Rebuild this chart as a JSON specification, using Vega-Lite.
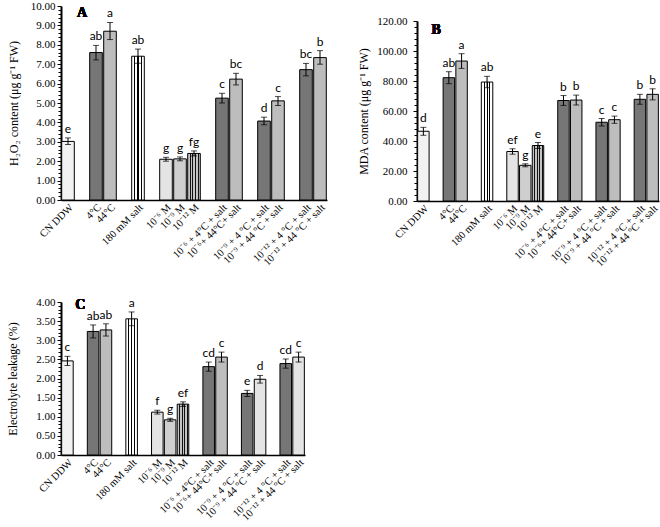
{
  "$schema": "https://vega.github.io/schema/vega-lite/v6.json",
  "padding": {"left": 6, "top": 0, "right": 0, "bottom": 0},
  "background": "white",
  "config": {
    "view": {"stroke": null},
    "font": "Liberation Serif",
    "axis": {"labelFont": "Liberation Serif", "titleFont": "Liberation Serif", "labelColor": "black", "titleColor": "black", "domainColor": "black", "tickColor": "black", "grid": false, "titleFontWeight": "normal"}
  },
  "datasets": {
    "A": [
      {"trt": "CN DDW", "v": 3.02, "lo": 2.86, "hi": 3.2, "sig": "e", "grp": "ctrl"},
      {"trt": "4°C", "v": 7.6, "lo": 7.22, "hi": 7.97, "sig": "ab", "grp": "cold"},
      {"trt": "44°C", "v": 8.7, "lo": 8.27, "hi": 9.15, "sig": "a", "grp": "heat"},
      {"trt": "180 mM salt", "v": 7.41, "lo": 7.05, "hi": 7.78, "sig": "ab", "grp": "salt"},
      {"trt": "10⁻⁶ M", "v": 2.1, "lo": 2.0, "hi": 2.2, "sig": "g", "grp": "cn6"},
      {"trt": "10⁻⁹ M", "v": 2.12, "lo": 2.02, "hi": 2.22, "sig": "g", "grp": "cn9"},
      {"trt": "10⁻¹² M", "v": 2.4, "lo": 2.27, "hi": 2.53, "sig": "fg", "grp": "cn12"},
      {"trt": "10⁻⁶ + 4°C + salt", "v": 5.25, "lo": 5.0, "hi": 5.5, "sig": "c", "grp": "cold"},
      {"trt": "10⁻⁶+ 44°C+ salt", "v": 6.23, "lo": 5.93, "hi": 6.53, "sig": "bc", "grp": "heat"},
      {"trt": "10⁻⁹ + 4 °C + salt", "v": 4.07, "lo": 3.88, "hi": 4.27, "sig": "d", "grp": "cold"},
      {"trt": "10⁻⁹ + 44 °C + salt", "v": 5.11, "lo": 4.87, "hi": 5.33, "sig": "c", "grp": "heat"},
      {"trt": "10⁻¹² + 4 °C + salt", "v": 6.72, "lo": 6.4, "hi": 7.04, "sig": "bc", "grp": "cold"},
      {"trt": "10⁻¹² + 44 °C + salt", "v": 7.34, "lo": 7.0, "hi": 7.7, "sig": "b", "grp": "heat"}
    ],
    "B": [
      {"trt": "CN DDW", "v": 46.5, "lo": 43.8, "hi": 49.1, "sig": "d", "grp": "ctrl"},
      {"trt": "4°C", "v": 82.2, "lo": 78.2, "hi": 86.2, "sig": "ab", "grp": "cold"},
      {"trt": "44°C", "v": 93.3, "lo": 88.4, "hi": 98.2, "sig": "a", "grp": "heat"},
      {"trt": "180 mM salt", "v": 79.3, "lo": 75.5, "hi": 83.1, "sig": "ab", "grp": "salt"},
      {"trt": "10⁻⁶ M", "v": 33.0, "lo": 31.2, "hi": 34.8, "sig": "ef", "grp": "cn6"},
      {"trt": "10⁻⁹ M", "v": 23.8, "lo": 22.8, "hi": 24.8, "sig": "g", "grp": "cn9"},
      {"trt": "10⁻¹² M", "v": 37.0, "lo": 35.0, "hi": 39.0, "sig": "e", "grp": "cn12"},
      {"trt": "10⁻⁶ + 4°C + salt", "v": 67.0, "lo": 63.7, "hi": 70.3, "sig": "b", "grp": "cold"},
      {"trt": "10⁻⁶+ 44°C+ salt", "v": 67.3, "lo": 64.0, "hi": 70.6, "sig": "b", "grp": "heat"},
      {"trt": "10⁻⁹ + 4 °C + salt", "v": 52.5, "lo": 50.0, "hi": 55.0, "sig": "c", "grp": "cold"},
      {"trt": "10⁻⁹ + 44 °C + salt", "v": 54.2, "lo": 51.8, "hi": 56.6, "sig": "c", "grp": "heat"},
      {"trt": "10⁻¹² + 4 °C + salt", "v": 67.8, "lo": 64.5, "hi": 71.1, "sig": "b", "grp": "cold"},
      {"trt": "10⁻¹² + 44 °C + salt", "v": 71.1, "lo": 67.4, "hi": 74.8, "sig": "b", "grp": "heat"}
    ],
    "C": [
      {"trt": "CN DDW", "v": 2.46, "lo": 2.34, "hi": 2.58, "sig": "c", "grp": "ctrl"},
      {"trt": "4°C", "v": 3.23, "lo": 3.06, "hi": 3.4, "sig": "ab", "grp": "cold"},
      {"trt": "44°C", "v": 3.27, "lo": 3.11, "hi": 3.43, "sig": "ab", "grp": "heat"},
      {"trt": "180 mM salt", "v": 3.56, "lo": 3.38, "hi": 3.74, "sig": "a", "grp": "salt"},
      {"trt": "10⁻⁶ M", "v": 1.12, "lo": 1.07, "hi": 1.17, "sig": "f", "grp": "cn6"},
      {"trt": "10⁻⁹ M", "v": 0.92, "lo": 0.88, "hi": 0.96, "sig": "g", "grp": "cn9"},
      {"trt": "10⁻¹² M", "v": 1.33, "lo": 1.27, "hi": 1.39, "sig": "ef", "grp": "cn12"},
      {"trt": "10⁻⁶ + 4°C + salt", "v": 2.31, "lo": 2.19, "hi": 2.43, "sig": "cd", "grp": "cold"},
      {"trt": "10⁻⁶+ 44°C+ salt", "v": 2.56, "lo": 2.43, "hi": 2.69, "sig": "c", "grp": "heat"},
      {"trt": "10⁻⁹ + 4 °C + salt", "v": 1.61, "lo": 1.53, "hi": 1.69, "sig": "e", "grp": "cold"},
      {"trt": "10⁻⁹ + 44 °C + salt", "v": 1.98, "lo": 1.88, "hi": 2.08, "sig": "d", "grp": "wave"},
      {"trt": "10⁻¹² + 4 °C + salt", "v": 2.39, "lo": 2.27, "hi": 2.51, "sig": "cd", "grp": "cold"},
      {"trt": "10⁻¹² + 44 °C + salt", "v": 2.56, "lo": 2.43, "hi": 2.69, "sig": "c", "grp": "wave"}
    ]
  },
  "vconcat": [
    {
      "hconcat": [
        {
          "width": 266, "height": 194,
          "data": {"name": "A"},
          "encoding": {
            "x": {"field": "trt", "type": "nominal", "title": null,
              "scale": {"domain": ["CN DDW","gap1","4°C","44°C","gap2","180 mM salt","gap3","10⁻⁶ M","10⁻⁹ M","10⁻¹² M","gap4","10⁻⁶ + 4°C + salt","10⁻⁶+ 44°C+ salt","gap5","10⁻⁹ + 4 °C + salt","10⁻⁹ + 44 °C + salt","gap6","10⁻¹² + 4 °C + salt","10⁻¹² + 44 °C + salt"], "paddingInner": 0.1, "paddingOuter": 0.05},
              "axis": {"labelAngle": -45, "labelFontSize": 10.5, "ticks": false, "domainWidth": 1.5, "labelPadding": 2, "labelExpr": "slice(datum.value,0,3)==='gap' ? '' : datum.value"}}
          },
          "layer": [
            {"mark": {"type": "point", "opacity": 0},
             "encoding": {"y": {"field": "v", "type": "quantitative", "scale": {"domain": [0, 10]},
               "axis": {"orient": "left", "values": [0.2,0.4,0.6,0.8,1.2,1.4,1.6,1.8,2.2,2.4,2.6,2.8,3.2,3.4,3.6,3.8,4.2,4.4,4.6,4.8,5.2,5.4,5.6,5.8,6.2,6.4,6.6,6.8,7.2,7.4,7.6,7.8,8.2,8.4,8.6,8.8,9.2,9.4,9.6,9.8], "labels": false, "domain": false, "tickSize": 3, "title": null}}}},
            {"mark": {"type": "bar", "stroke": "black", "strokeWidth": 1},
             "encoding": {
               "y": {"field": "v", "type": "quantitative", "scale": {"domain": [0, 10]},
                 "axis": {"orient": "left", "values": [0,1,2,3,4,5,6,7,8,9,10], "format": ".2f", "labelFontSize": 11, "tickSize": 4, "labelPadding": 2, "domainWidth": 2, "title": "H₂O₂ content (μg g⁻¹ FW)", "titleFontSize": 12, "titlePadding": 10}},
               "fill": {"field": "grp", "type": "nominal", "legend": null,
                 "scale": {"domain": ["ctrl","cold","heat","salt","cn6","cn9","cn12","wave"], "range": ["#f2f2f2","#767676","#bdbdbd","#ffffff","#e4e4e4","#cfcfcf","#a8a8a8","#e4e4e4"]},
                 "condition": [
                   {"test": "datum.grp==='salt'", "value": {"gradient": "linear", "x1": 0, "y1": 0, "x2": 1, "y2": 0, "stops": [{"offset": 0, "color": "#ffffff"}, {"offset": 0.22, "color": "#ffffff"}, {"offset": 0.22, "color": "#000000"}, {"offset": 0.3, "color": "#000000"}, {"offset": 0.3, "color": "#ffffff"}, {"offset": 0.46, "color": "#ffffff"}, {"offset": 0.46, "color": "#000000"}, {"offset": 0.54, "color": "#000000"}, {"offset": 0.54, "color": "#ffffff"}, {"offset": 0.7, "color": "#ffffff"}, {"offset": 0.7, "color": "#000000"}, {"offset": 0.78, "color": "#000000"}, {"offset": 0.78, "color": "#ffffff"}, {"offset": 1, "color": "#ffffff"}]}},
                   {"test": "datum.grp==='cn12'", "value": {"gradient": "linear", "x1": 0, "y1": 0, "x2": 1, "y2": 0, "stops": [{"offset": 0, "color": "#c4c4c4"}, {"offset": 0.16, "color": "#c4c4c4"}, {"offset": 0.16, "color": "#111111"}, {"offset": 0.24, "color": "#111111"}, {"offset": 0.24, "color": "#c4c4c4"}, {"offset": 0.38, "color": "#c4c4c4"}, {"offset": 0.38, "color": "#111111"}, {"offset": 0.46, "color": "#111111"}, {"offset": 0.46, "color": "#c4c4c4"}, {"offset": 0.6, "color": "#c4c4c4"}, {"offset": 0.6, "color": "#111111"}, {"offset": 0.68, "color": "#111111"}, {"offset": 0.68, "color": "#c4c4c4"}, {"offset": 0.82, "color": "#c4c4c4"}, {"offset": 0.82, "color": "#111111"}, {"offset": 0.9, "color": "#111111"}, {"offset": 0.9, "color": "#c4c4c4"}, {"offset": 1, "color": "#c4c4c4"}]}}
                 ]}
             }},
            {"mark": {"type": "errorbar", "ticks": {"size": 6, "color": "black", "strokeWidth": 1}, "rule": {"color": "black", "strokeWidth": 1}},
             "encoding": {"y": {"field": "lo", "type": "quantitative", "scale": {"domain": [0, 10]}, "axis": null}, "y2": {"field": "hi"}}},
            {"mark": {"type": "text", "font": "Lato", "fontSize": 12, "baseline": "bottom", "dy": -2, "fill": "black"},
             "encoding": {"y": {"field": "hi", "type": "quantitative", "scale": {"domain": [0, 10]}, "axis": null}, "text": {"field": "sig"}}},
            {"mark": {"type": "text", "font": "Liberation Serif", "fontWeight": "bold", "fontSize": 14, "baseline": "top", "align": "center", "fill": "black"},
             "encoding": {"x": {"datum": "gap1", "type": "nominal"}, "y": {"datum": 10, "type": "quantitative", "scale": {"domain": [0, 10]}, "axis": null}, "text": {"value": "A"}}}
          ],
          "resolve": {"axis": {"y": "independent"}}
        },
        {
          "vconcat": [
            {"width": 243, "height": 8, "data": {"values": [{}]}, "mark": {"type": "text"}, "encoding": {"text": {"value": ""}}},
            {
              "width": 242, "height": 180,
              "data": {"name": "B"},
              "encoding": {
                "x": {"field": "trt", "type": "nominal", "title": null,
                  "scale": {"domain": ["CN DDW","gap1","4°C","44°C","gap2","180 mM salt","gap3","10⁻⁶ M","10⁻⁹ M","10⁻¹² M","gap4","10⁻⁶ + 4°C + salt","10⁻⁶+ 44°C+ salt","gap5","10⁻⁹ + 4 °C + salt","10⁻⁹ + 44 °C + salt","gap6","10⁻¹² + 4 °C + salt","10⁻¹² + 44 °C + salt"], "paddingInner": 0.1, "paddingOuter": 0.05},
                  "axis": {"labelAngle": -45, "labelFontSize": 10.5, "ticks": false, "domainWidth": 1.5, "labelPadding": 2, "labelExpr": "slice(datum.value,0,3)==='gap' ? '' : datum.value"}}
              },
              "layer": [
                {"mark": {"type": "point", "opacity": 0},
                 "encoding": {"y": {"field": "v", "type": "quantitative", "scale": {"domain": [0, 120]},
                   "axis": {"orient": "left", "values": [4,8,12,16,24,28,32,36,44,48,52,56,64,68,72,76,84,88,92,96,104,108,112,116], "labels": false, "domain": false, "tickSize": 3, "title": null}}}},
                {"mark": {"type": "bar", "stroke": "black", "strokeWidth": 1},
                 "encoding": {
                   "y": {"field": "v", "type": "quantitative", "scale": {"domain": [0, 120]},
                     "axis": {"orient": "left", "values": [0,20,40,60,80,100,120], "format": ".2f", "labelFontSize": 11, "tickSize": 4, "labelPadding": 6, "domainWidth": 2, "title": "MDA content (μg g⁻¹ FW)", "titleFontSize": 12, "titlePadding": 6}},
                   "fill": {"field": "grp", "type": "nominal", "legend": null,
                     "scale": {"domain": ["ctrl","cold","heat","salt","cn6","cn9","cn12","wave"], "range": ["#f2f2f2","#767676","#bdbdbd","#ffffff","#e4e4e4","#cfcfcf","#a8a8a8","#e4e4e4"]},
                     "condition": [
                       {"test": "datum.grp==='salt'", "value": {"gradient": "linear", "x1": 0, "y1": 0, "x2": 1, "y2": 0, "stops": [{"offset": 0, "color": "#ffffff"}, {"offset": 0.22, "color": "#ffffff"}, {"offset": 0.22, "color": "#000000"}, {"offset": 0.3, "color": "#000000"}, {"offset": 0.3, "color": "#ffffff"}, {"offset": 0.46, "color": "#ffffff"}, {"offset": 0.46, "color": "#000000"}, {"offset": 0.54, "color": "#000000"}, {"offset": 0.54, "color": "#ffffff"}, {"offset": 0.7, "color": "#ffffff"}, {"offset": 0.7, "color": "#000000"}, {"offset": 0.78, "color": "#000000"}, {"offset": 0.78, "color": "#ffffff"}, {"offset": 1, "color": "#ffffff"}]}},
                       {"test": "datum.grp==='cn12'", "value": {"gradient": "linear", "x1": 0, "y1": 0, "x2": 1, "y2": 0, "stops": [{"offset": 0, "color": "#c4c4c4"}, {"offset": 0.16, "color": "#c4c4c4"}, {"offset": 0.16, "color": "#111111"}, {"offset": 0.24, "color": "#111111"}, {"offset": 0.24, "color": "#c4c4c4"}, {"offset": 0.38, "color": "#c4c4c4"}, {"offset": 0.38, "color": "#111111"}, {"offset": 0.46, "color": "#111111"}, {"offset": 0.46, "color": "#c4c4c4"}, {"offset": 0.6, "color": "#c4c4c4"}, {"offset": 0.6, "color": "#111111"}, {"offset": 0.68, "color": "#111111"}, {"offset": 0.68, "color": "#c4c4c4"}, {"offset": 0.82, "color": "#c4c4c4"}, {"offset": 0.82, "color": "#111111"}, {"offset": 0.9, "color": "#111111"}, {"offset": 0.9, "color": "#c4c4c4"}, {"offset": 1, "color": "#c4c4c4"}]}}
                     ]}
                 }},
                {"mark": {"type": "errorbar", "ticks": {"size": 6, "color": "black", "strokeWidth": 1}, "rule": {"color": "black", "strokeWidth": 1}},
                 "encoding": {"y": {"field": "lo", "type": "quantitative", "scale": {"domain": [0, 120]}, "axis": null}, "y2": {"field": "hi"}}},
                {"mark": {"type": "text", "font": "Lato", "fontSize": 12, "baseline": "bottom", "dy": -2, "fill": "black"},
                 "encoding": {"y": {"field": "hi", "type": "quantitative", "scale": {"domain": [0, 120]}, "axis": null}, "text": {"field": "sig"}}},
                {"mark": {"type": "text", "font": "Liberation Serif", "fontWeight": "bold", "fontSize": 14, "baseline": "top", "align": "center", "dy": 2, "fill": "black"},
                 "encoding": {"x": {"datum": "gap1", "type": "nominal"}, "y": {"datum": 120, "type": "quantitative", "scale": {"domain": [0, 120]}, "axis": null}, "text": {"value": "B"}}}
              ],
              "resolve": {"axis": {"y": "independent"}}
            }
          ],
          "spacing": 0
        }
      ],
      "spacing": 30
    },
    {
      "width": 244, "height": 153,
      "data": {"name": "C"},
      "encoding": {
        "x": {"field": "trt", "type": "nominal", "title": null,
          "scale": {"domain": ["CN DDW","gap1","4°C","44°C","gap2","180 mM salt","gap3","10⁻⁶ M","10⁻⁹ M","10⁻¹² M","gap4","10⁻⁶ + 4°C + salt","10⁻⁶+ 44°C+ salt","gap5","10⁻⁹ + 4 °C + salt","10⁻⁹ + 44 °C + salt","gap6","10⁻¹² + 4 °C + salt","10⁻¹² + 44 °C + salt"], "paddingInner": 0.1, "paddingOuter": 0.05},
          "axis": {"labelAngle": -45, "labelFontSize": 10.5, "ticks": false, "domainWidth": 1.5, "labelPadding": 2, "labelExpr": "slice(datum.value,0,3)==='gap' ? '' : datum.value"}}
      },
      "layer": [
        {"mark": {"type": "point", "opacity": 0},
         "encoding": {"y": {"field": "v", "type": "quantitative", "scale": {"domain": [0, 4]},
           "axis": {"orient": "left", "values": [0.1,0.2,0.3,0.4,0.6,0.7,0.8,0.9,1.1,1.2,1.3,1.4,1.6,1.7,1.8,1.9,2.1,2.2,2.3,2.4,2.6,2.7,2.8,2.9,3.1,3.2,3.3,3.4,3.6,3.7,3.8,3.9], "labels": false, "domain": false, "tickSize": 3, "title": null}}}},
        {"mark": {"type": "bar", "stroke": "black", "strokeWidth": 1},
         "encoding": {
           "y": {"field": "v", "type": "quantitative", "scale": {"domain": [0, 4]},
             "axis": {"orient": "left", "values": [0,0.5,1,1.5,2,2.5,3,3.5,4], "format": ".2f", "labelFontSize": 11, "tickSize": 4, "labelPadding": 2, "domainWidth": 2, "title": "Electrolyte  leakage  (%)", "titleFontSize": 12, "titlePadding": 16}},
           "fill": {"field": "grp", "type": "nominal", "legend": null,
             "scale": {"domain": ["ctrl","cold","heat","salt","cn6","cn9","cn12","wave"], "range": ["#f2f2f2","#767676","#bdbdbd","#ffffff","#e4e4e4","#cfcfcf","#a8a8a8","#e4e4e4"]},
             "condition": [
               {"test": "datum.grp==='salt'", "value": {"gradient": "linear", "x1": 0, "y1": 0, "x2": 1, "y2": 0, "stops": [{"offset": 0, "color": "#ffffff"}, {"offset": 0.22, "color": "#ffffff"}, {"offset": 0.22, "color": "#000000"}, {"offset": 0.3, "color": "#000000"}, {"offset": 0.3, "color": "#ffffff"}, {"offset": 0.46, "color": "#ffffff"}, {"offset": 0.46, "color": "#000000"}, {"offset": 0.54, "color": "#000000"}, {"offset": 0.54, "color": "#ffffff"}, {"offset": 0.7, "color": "#ffffff"}, {"offset": 0.7, "color": "#000000"}, {"offset": 0.78, "color": "#000000"}, {"offset": 0.78, "color": "#ffffff"}, {"offset": 1, "color": "#ffffff"}]}},
               {"test": "datum.grp==='cn12'", "value": {"gradient": "linear", "x1": 0, "y1": 0, "x2": 1, "y2": 0, "stops": [{"offset": 0, "color": "#c4c4c4"}, {"offset": 0.16, "color": "#c4c4c4"}, {"offset": 0.16, "color": "#111111"}, {"offset": 0.24, "color": "#111111"}, {"offset": 0.24, "color": "#c4c4c4"}, {"offset": 0.38, "color": "#c4c4c4"}, {"offset": 0.38, "color": "#111111"}, {"offset": 0.46, "color": "#111111"}, {"offset": 0.46, "color": "#c4c4c4"}, {"offset": 0.6, "color": "#c4c4c4"}, {"offset": 0.6, "color": "#111111"}, {"offset": 0.68, "color": "#111111"}, {"offset": 0.68, "color": "#c4c4c4"}, {"offset": 0.82, "color": "#c4c4c4"}, {"offset": 0.82, "color": "#111111"}, {"offset": 0.9, "color": "#111111"}, {"offset": 0.9, "color": "#c4c4c4"}, {"offset": 1, "color": "#c4c4c4"}]}}
             ]}
         }},
        {"mark": {"type": "errorbar", "ticks": {"size": 6, "color": "black", "strokeWidth": 1}, "rule": {"color": "black", "strokeWidth": 1}},
         "encoding": {"y": {"field": "lo", "type": "quantitative", "scale": {"domain": [0, 4]}, "axis": null}, "y2": {"field": "hi"}}},
        {"mark": {"type": "text", "font": "Lato", "fontSize": 12, "baseline": "bottom", "dy": -2, "fill": "black"},
         "encoding": {"y": {"field": "hi", "type": "quantitative", "scale": {"domain": [0, 4]}, "axis": null}, "text": {"field": "sig"}}},
        {"mark": {"type": "text", "font": "Liberation Serif", "fontWeight": "bold", "fontSize": 14, "baseline": "top", "align": "center", "dy": -4, "fill": "black"},
         "encoding": {"x": {"datum": "gap1", "type": "nominal"}, "y": {"datum": 4, "type": "quantitative", "scale": {"domain": [0, 4]}, "axis": null}, "text": {"value": "C"}}}
      ],
      "resolve": {"axis": {"y": "independent"}}
    }
  ],
  "spacing": 27
}
